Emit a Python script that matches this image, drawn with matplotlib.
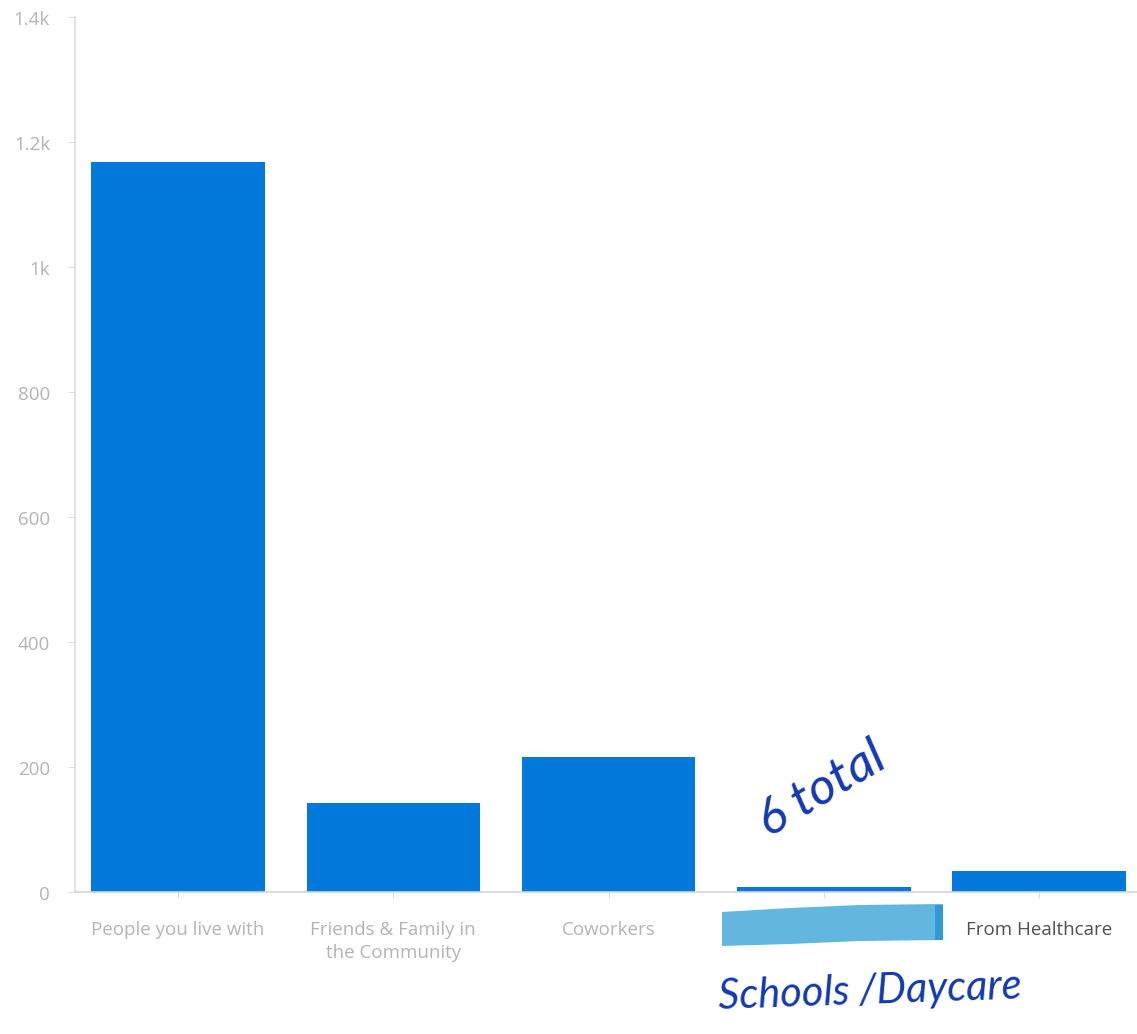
import matplotlib
matplotlib.use("Agg")
import matplotlib.pyplot as plt
from matplotlib.patches import Polygon, Rectangle
from matplotlib.transforms import ScaledTranslation

W, H = 1137, 1034

# values
categories = ["People you live with", "Friends & Family in\nthe Community", "Coworkers", "", "From Healthcare"]
counts = [1168, 142, 216, 8, 34]
yticks = [0, 200, 400, 600, 800, 1000, 1200, 1400]
ylabels = ["0", "200", "400", "600", "800", "1k", "1.2k", "1.4k"]

BLUE = "#0479dc"
GREY = "#b4b4b4"
INK = "#1239b4"

plt.rcParams["font.family"] = ["Open Sans", "DejaVu Sans"]

def fx(x):
    return x / W
def fy(y):
    return 1 - y / H

def main():
    fig = plt.figure(figsize=(W / 100, H / 100), dpi=100)
    ax = fig.add_axes([fx(75), fy(892), fx(1137 - 75), (892 - 17) / H])

    x = range(len(categories))
    ax.bar(x, counts, width=0.806, color=BLUE)
    ax.set_xlim(-0.4785, 4.455)
    ax.set_ylim(0, 1400)

    for s in ["top", "right"]:
        ax.spines[s].set_visible(False)
    ax.spines["left"].set_color("#dddddd")
    ax.spines["bottom"].set_color("#d4d4d4")
    ax.spines["left"].set_linewidth(1.2)
    ax.spines["bottom"].set_linewidth(1.2)

    ax.set_yticks(yticks)
    ax.set_yticklabels(ylabels)
    ax.set_xticks(list(x))
    ax.set_xticklabels(categories, linespacing=1.35)
    ax.tick_params(axis="y", length=5, color="#dddddd", labelcolor=GREY, labelsize=13.5, pad=13)
    ax.tick_params(axis="x", length=4, color="#dddddd", labelcolor=GREY, labelsize=13.5, pad=17)
    ax.get_xticklabels()[4].set_color("#505050")
    # labels sit a little below their ticks in the reference
    shift = ScaledTranslation(0, -3 / 100, fig.dpi_scale_trans)
    for lab in ax.get_yticklabels():
        lab.set_verticalalignment("center")
        lab.set_transform(lab.get_transform() + shift)

    # highlighter stroke over the hidden label
    corners = [(722, 912), (790, 908), (860, 905), (943, 904), (943, 940), (860, 941), (790, 944), (722, 946)]
    fig.add_artist(Polygon([(fx(a), fy(b)) for a, b in corners], transform=fig.transFigure,
                           facecolor="#62b6df", edgecolor="none"))
    fig.add_artist(Rectangle((fx(935), fy(940)), 8 / W, 35 / H, transform=fig.transFigure,
                             facecolor="#2f9ad6", edgecolor="none"))

    # handwritten notes
    fig.text(fx(822), fy(790), "6 total", color=INK, fontsize=37, rotation=31,
             ha="center", va="center", style="italic", family=["Lato", "DejaVu Sans"])
    fig.text(fx(870), fy(992), "Schools /Daycare", color=INK, fontsize=30, rotation=2,
             ha="center", va="center", style="italic", family=["Lato", "DejaVu Sans"])

    fig.savefig("out.png", dpi=100)

if __name__ == "__main__":
    main()
